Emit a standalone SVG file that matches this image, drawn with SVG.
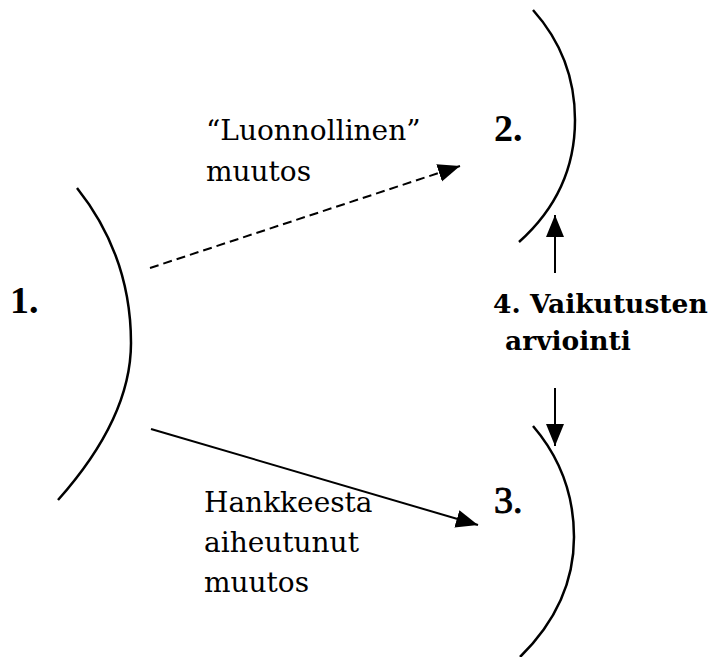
<svg xmlns="http://www.w3.org/2000/svg" width="709" height="657" viewBox="0 0 709 657">
<style>
.arc{fill:none;stroke:#000;stroke-width:2.5}
.lbl{font-family:"DejaVu Serif","Liberation Serif",serif;font-size:28px;fill:#000}
.num{font-family:"Liberation Serif","DejaVu Serif",serif;font-size:38px;font-weight:bold;fill:#000}
.ttl{font-family:"DejaVu Serif","Liberation Serif",serif;font-size:26.5px;font-weight:bold;fill:#000}
.con{fill:none;stroke:#000;stroke-width:2}
</style>
<defs>
<marker id="ah" markerUnits="userSpaceOnUse" markerWidth="24" markerHeight="20" refX="22" refY="9" orient="auto">
<path d="M0,0 L22,9 L0,18 z" fill="#000"/>
</marker>
</defs>
<rect width="709" height="657" fill="#fff"/>
<g id="node1">
<path class="arc" d="M77,188 Q131,256 131,343 Q131,418 58,500"/>
<text class="num" x="10" y="313">1.</text>
</g>
<g id="node2">
<path class="arc" d="M533,10 Q575,57 575,120 Q575,192 519,242"/>
<text class="num" x="494" y="141">2.</text>
</g>
<g id="node3">
<path class="arc" d="M533,426 Q574,474 574,537 Q574,604 520,657"/>
<text class="num" x="494" y="513" style="font-weight:normal;stroke:#000;stroke-width:1">3.</text>
</g>
<g id="node4">
<text class="ttl" x="493" y="313">4. Vaikutusten</text>
<text class="ttl" x="505" y="350">arviointi</text>
</g>
<g id="labels">
<text class="lbl" x="206" y="140">“Luonnollinen”</text>
<text class="lbl" x="206" y="181">muutos</text>
<text class="lbl" x="204" y="512">Hankkeesta</text>
<text class="lbl" x="204" y="552">aiheutunut</text>
<text class="lbl" x="204" y="592">muutos</text>
</g>
<g id="connectors">
<line class="con" x1="150" y1="268" x2="460" y2="166" stroke-dasharray="9,5" marker-end="url(#ah)"/>
<line class="con" x1="151" y1="429" x2="478" y2="525" marker-end="url(#ah)"/>
<line class="con" x1="555" y1="273" x2="555" y2="215" marker-end="url(#ah)"/>
<line class="con" x1="555" y1="388" x2="555" y2="446" marker-end="url(#ah)"/>
</g>
</svg>
